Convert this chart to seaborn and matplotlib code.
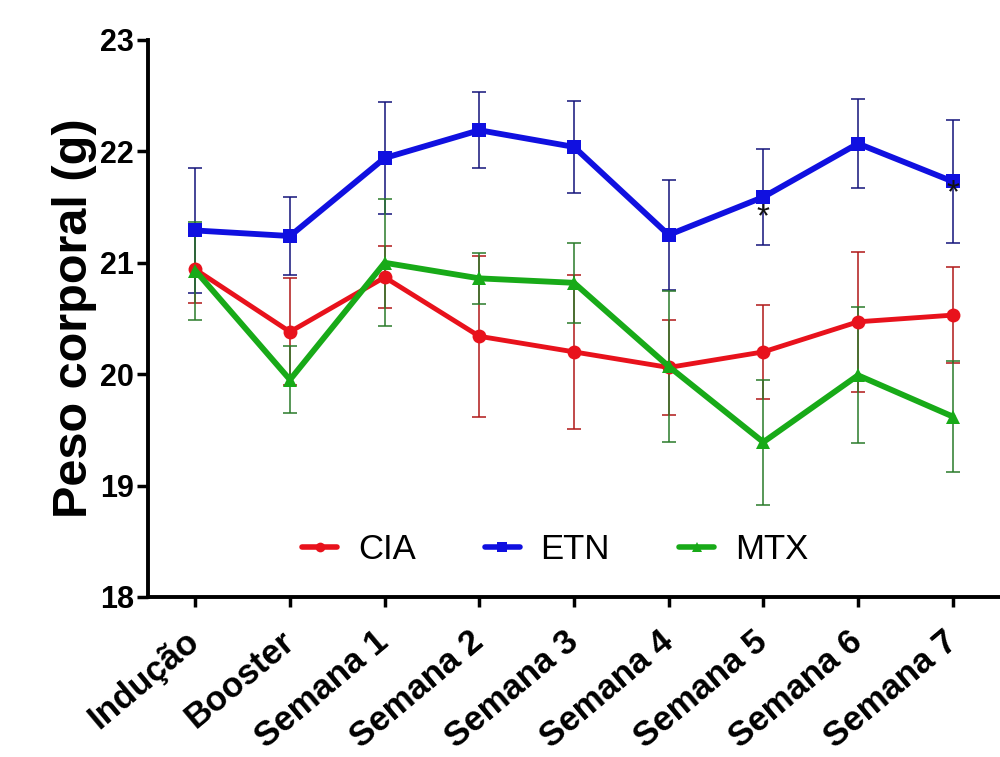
import pandas as pd
import matplotlib
matplotlib.use("Agg")
import matplotlib.pyplot as plt
import matplotlib.transforms as mtransforms
import seaborn as sns

# --- DATA ---
TIMEPOINTS = ["Indução", "Booster", "Semana 1", "Semana 2", "Semana 3",
              "Semana 4", "Semana 5", "Semana 6", "Semana 7"]
GROUPS = ["CIA", "ETN", "MTX"]

cia_mean = [20.94, 20.38, 20.87, 20.34, 20.20, 20.06, 20.20, 20.47, 20.53]
cia_err = [0.30, 0.48, 0.28, 0.72, 0.69, 0.43, 0.42, 0.63, 0.43]

etn_mean = [21.29, 21.24, 21.94, 22.19, 22.04, 21.25, 21.59, 22.07, 21.73]
etn_err = [0.56, 0.35, 0.50, 0.34, 0.41, 0.49, 0.43, 0.40, 0.55]

mtx_mean = [20.93, 19.95, 21.00, 20.86, 20.82, 20.07, 19.39, 19.99, 19.62]
mtx_err = [0.44, 0.30, 0.57, 0.23, 0.36, 0.68, 0.56, 0.61, 0.50]

# significance marks (timepoint, y)
STAR_POINTS = [("Semana 5", 21.40), ("Semana 7", 21.62)]
# ---------------------

LINE_COLORS = {"CIA": "#e8121c", "ETN": "#1010e0", "MTX": "#18aa18"}
ERR_COLORS = {"CIA": "#b01818", "ETN": "#14147a", "MTX": "#2a7a2a"}
MARKERS = {"CIA": "o", "ETN": "s", "MTX": "^"}
LINE_W = {"CIA": 3.5, "ETN": 4.2, "MTX": 4.2}

means = {"CIA": cia_mean, "ETN": etn_mean, "MTX": mtx_mean}
errs = {"CIA": cia_err, "ETN": etn_err, "MTX": mtx_err}

rows = []
for g in GROUPS:
    for i, t in enumerate(TIMEPOINTS):
        rows.append({"Tempo": t, "idx": i, "Grupo": g,
                     "Peso": means[g][i], "erro": errs[g][i]})
df = pd.DataFrame(rows)

sns.set_style("ticks")
plt.rcParams["font.family"] = ["Liberation Sans", "DejaVu Sans"]
plt.rcParams.update({"text.color": "black", "axes.labelcolor": "black",
                     "xtick.color": "black", "ytick.color": "black",
                     "axes.edgecolor": "black"})

fig = plt.figure(figsize=(10, 7.57), dpi=100)
ax = fig.add_axes([0.148, 0.2114, 0.852, 0.7358])

# error bars underneath the lines
for g in GROUPS:
    sub = df[df["Grupo"] == g]
    ax.errorbar(sub["idx"], sub["Peso"], yerr=sub["erro"], fmt="none",
                ecolor=ERR_COLORS[g], elinewidth=1.1, capsize=5,
                capthick=1.1, zorder=1)

for g in GROUPS:
    sub = df[df["Grupo"] == g]
    sns.lineplot(data=sub, x="idx", y="Peso", ax=ax, color=LINE_COLORS[g],
                 marker=MARKERS[g], markersize=10, markeredgewidth=0,
                 linewidth=LINE_W[g], label=g, zorder=3)

for t, y in STAR_POINTS:
    ax.text(TIMEPOINTS.index(t), y, "*", ha="center", va="center",
            fontsize=24, color="#111111", zorder=4)

ax.set_xlim(-0.5, 8.5)
ax.set_ylim(18, 23)
ax.set_yticks([18, 19, 20, 21, 22, 23])
ax.set_xticks(range(len(TIMEPOINTS)))
ax.set_xticklabels(TIMEPOINTS, rotation=40, ha="right", va="center",
                   rotation_mode="anchor", fontsize=25, fontweight="bold")
shift = mtransforms.ScaledTranslation(8 / 100, 0, fig.dpi_scale_trans)
for lab in ax.get_xticklabels():
    lab.set_transform(lab.get_transform() + shift)
ax.tick_params(axis="y", labelsize=22, width=2.5, length=8, pad=2)
ax.tick_params(axis="x", width=2.5, length=7, pad=22)
for lab in ax.get_yticklabels():
    lab.set_fontweight("bold")

ax.set_xlabel("")
ax.set_ylabel("Peso corporal (g)", fontsize=35, fontweight="bold", labelpad=2)

sns.despine(ax=ax)
ax.spines["left"].set_linewidth(2.8)
ax.spines["bottom"].set_linewidth(2.8)

leg = ax.legend(loc="center", bbox_to_anchor=(0.478, 0.085), ncol=3,
                frameon=False, fontsize=25, handlelength=1.0,
                columnspacing=2.0, handletextpad=0.6, markerscale=0.7)
for h in leg.get_lines():
    h.set_linewidth(4)

plt.savefig("out.png", dpi=100)
